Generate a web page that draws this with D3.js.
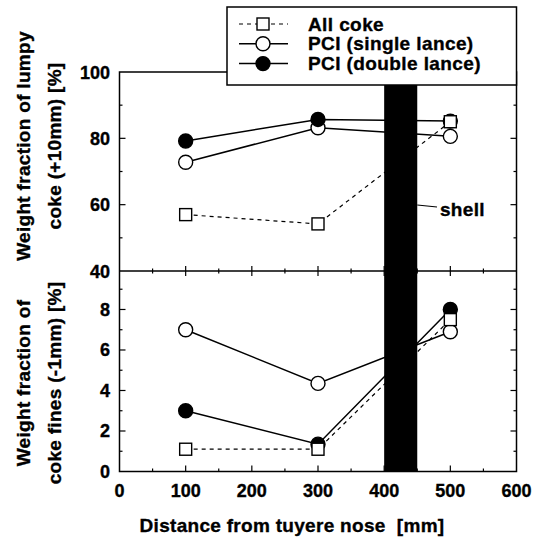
<!DOCTYPE html>
<html><head><meta charset="utf-8">
<script src="https://cdn.jsdelivr.net/npm/d3@7"></script>
<style>
html,body{margin:0;padding:0;background:#fff;}
text{font-family:"Liberation Sans",Arial,Helvetica,sans-serif;font-weight:bold;fill:#000;stroke:#000;stroke-width:0.35px;}
</style></head>
<body><svg id="c" width="542" height="537"></svg>
<script>
// ---- data ----
const distances = [100, 300, 500];
const seriesNames = ["All coke", "PCI (single lance)", "PCI (double lance)"];
const lumpyAllCoke = [57, 54.2, 85];
const lumpySingle = [72.8, 83.2, 80.6];
const lumpyDouble = [79.2, 85.7, 85.2];
const finesAllCoke = [1.1, 1.1, 7.5];
const finesSingle = [7.0, 4.35, 6.9];
const finesDouble = [3.0, 1.35, 8.0];
const shellRange = [400, 450];
const xTicks = [0, 100, 200, 300, 400, 500, 600];
const lumpyTicks = [40, 60, 80, 100];
const finesTicks = [0, 2, 4, 6, 8];

const svg = d3.select("#c");
const L = 119.5, R = 516.5, T1 = 72, B1 = 271, B2 = 471.5;
const x = d3.scaleLinear().domain([0, 600]).range([L, R]);
const yTop = d3.scaleLinear().domain([40, 100]).range([B1, T1]);
const yBot = d3.scaleLinear().domain([0, 9.9]).range([B2, B1]);

const styles = [
  {marker: "square", fill: "#fff", dash: "4,4", sw: 1.2},
  {marker: "circle", fill: "#fff", dash: null, sw: 1.5},
  {marker: "circle", fill: "#000", dash: null, sw: 1.5}
];

const g = svg.append("g");

// frame
g.append("rect").attr("x", L).attr("y", T1).attr("width", R - L).attr("height", B2 - T1)
  .attr("fill", "none").attr("stroke", "#000").attr("stroke-width", 1.5);
g.append("line").attr("x1", L).attr("x2", R).attr("y1", B1).attr("y2", B1)
  .attr("stroke", "#000").attr("stroke-width", 1.5);

// ticks
function tickLines(data, fn) {
  g.selectAll(null).data(data).enter().append("line").each(fn)
    .attr("stroke", "#000").attr("stroke-width", 1.2);
}
const xMinor = d3.range(50, 600, 50);
tickLines(xMinor, function (d) {
  const len = d % 100 === 0 ? 6 : 3;
  d3.select(this).attr("x1", x(d)).attr("x2", x(d)).attr("y1", B2).attr("y2", B2 - len);
});
tickLines(xMinor, function (d) {
  const len = d % 100 === 0 ? 5 : 2.5;
  d3.select(this).attr("x1", x(d)).attr("x2", x(d)).attr("y1", B1 - len).attr("y2", B1 + len);
});
const topMinor = d3.range(50, 100, 10);
[L, R].forEach((edge, k) => {
  const s = k === 0 ? 1 : -1;
  tickLines(topMinor, function (d) {
    const len = d % 20 === 0 ? 6 : 3;
    d3.select(this).attr("x1", edge).attr("x2", edge + s * len).attr("y1", yTop(d)).attr("y2", yTop(d));
  });
  tickLines(d3.range(1, 10, 1), function (d) {
    const len = d % 2 === 0 ? 6 : 3;
    d3.select(this).attr("x1", edge).attr("x2", edge + s * len).attr("y1", yBot(d)).attr("y2", yBot(d));
  });
});

// tick labels
g.selectAll(null).data(xTicks).enter().append("text")
  .attr("x", d => x(d)).attr("y", 497).attr("text-anchor", "middle")
  .attr("font-size", 18).text(d => d);
g.selectAll(null).data(lumpyTicks).enter().append("text")
  .attr("x", 110).attr("y", d => yTop(d) + 6.5).attr("text-anchor", "end")
  .attr("font-size", 18).text(d => d);
g.selectAll(null).data(finesTicks).enter().append("text")
  .attr("x", 110).attr("y", d => yBot(d) + 6.5).attr("text-anchor", "end")
  .attr("font-size", 18).text(d => d);

// axis titles
g.append("text").attr("x", 292).attr("y", 532).attr("text-anchor", "middle")
  .attr("font-size", 19).attr("letter-spacing", 0.3).attr("xml:space", "preserve")
  .text("Distance from tuyere nose  [mm]");
function yTitle(lines, cy) {
  const t = g.append("text").attr("transform", `translate(0,${cy}) rotate(-90)`)
    .attr("text-anchor", "middle").attr("font-size", 19).attr("letter-spacing", 0.3);
  t.append("tspan").attr("x", 0).attr("y", 30).text(lines[0]);
  t.append("tspan").attr("x", 0).attr("y", 61).text(lines[1]);
}
yTitle(["Weight fraction of lumpy", "coke (+10mm) [%]"], 146);
yTitle(["Weight fraction of", "coke fines (-1mm) [%]"], 383);

// series lines
const lumpy = [lumpyAllCoke, lumpySingle, lumpyDouble];
const fines = [finesAllCoke, finesSingle, finesDouble];
function drawLines(vals, y) {
  vals.forEach((arr, i) => {
    const st = styles[i];
    const pts = arr.map((v, j) => [x(distances[j]), y(v)]);
    g.append("path").attr("d", d3.line()(pts)).attr("fill", "none")
      .attr("stroke", "#000").attr("stroke-width", st.sw)
      .attr("stroke-dasharray", st.dash);
  });
}
drawLines(lumpy, yTop);
drawLines(fines, yBot);

// shell bar (over lines)
g.append("rect").attr("x", x(shellRange[0])).attr("y", T1)
  .attr("width", x(shellRange[1]) - x(shellRange[0])).attr("height", B2 - T1).attr("fill", "#000");
g.append("line").attr("x1", x(shellRange[1])).attr("x2", 437).attr("y1", 205).attr("y2", 207)
  .attr("stroke", "#000").attr("stroke-width", 1.2);
g.append("text").attr("x", 440).attr("y", 216).attr("font-size", 19).attr("letter-spacing", 0.3).text("shell");

// markers
function marker(sel, st, cx, cy) {
  if (st.marker === "square") {
    sel.append("rect").attr("x", cx - 6).attr("y", cy - 6).attr("width", 12).attr("height", 12)
      .attr("fill", st.fill).attr("stroke", "#000").attr("stroke-width", 1.4);
  } else {
    sel.append("circle").attr("cx", cx).attr("cy", cy).attr("r", 7)
      .attr("fill", st.fill).attr("stroke", "#000").attr("stroke-width", 1.4);
  }
}
const drawOrder = [1, 2, 0];
[[lumpy, yTop], [fines, yBot]].forEach(([vals, y]) => {
  drawOrder.forEach(i => {
    vals[i].forEach((v, j) => marker(g, styles[i], x(distances[j]), y(v)));
  });
});

// legend
const lg = g.append("g");
lg.append("rect").attr("x", 227).attr("y", 7).attr("width", R - 227).attr("height", 78)
  .attr("fill", "#fff").attr("stroke", "#000").attr("stroke-width", 1.5);
seriesNames.forEach((name, i) => {
  const cy = 24 + i * 19.8;
  const st = styles[i];
  lg.append("line").attr("x1", 239).attr("x2", 288).attr("y1", cy).attr("y2", cy)
    .attr("stroke", "#000").attr("stroke-width", st.sw).attr("stroke-dasharray", st.dash);
  marker(lg, st, 263, cy);
  lg.append("text").attr("x", 308).attr("y", cy + 6.5).attr("font-size", 19)
    .attr("letter-spacing", 0.4).text(name);
});
</script>
</body></html>
